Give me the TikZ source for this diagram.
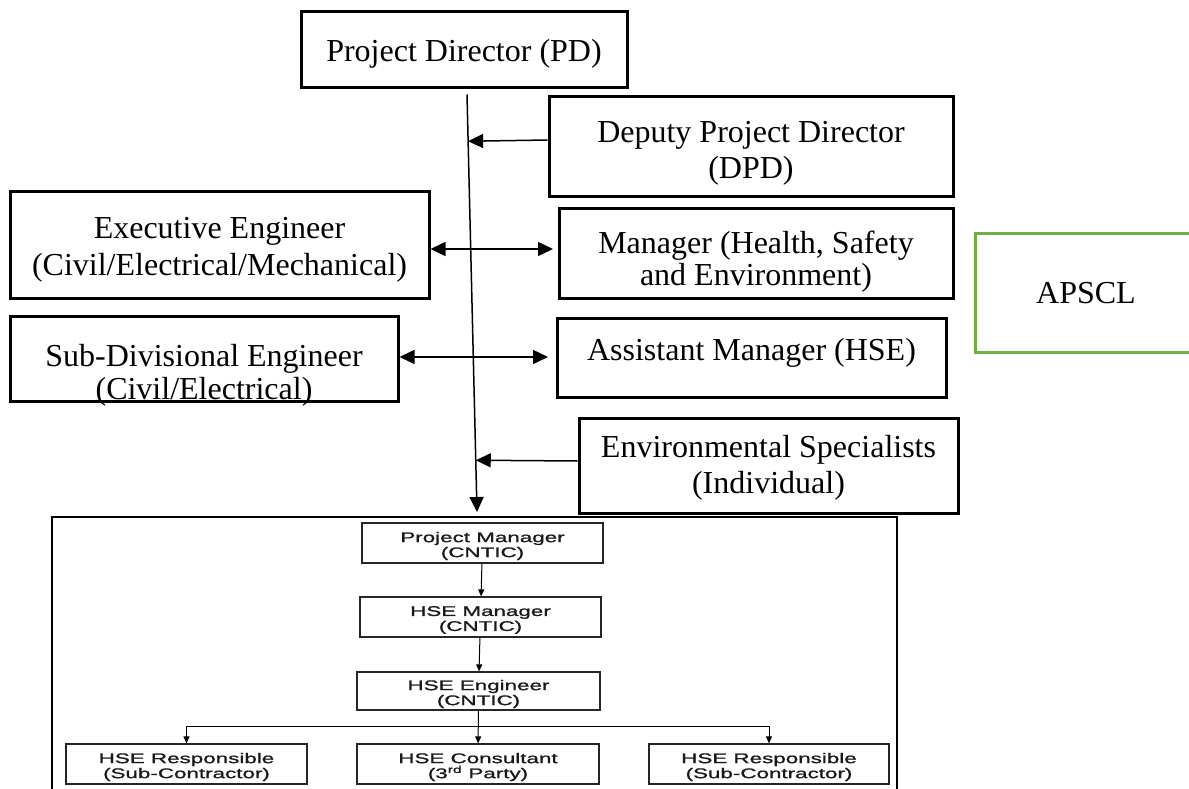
\documentclass[tikz,border=0pt]{standalone}
\usepackage{fontspec}
\setmainfont{Liberation Serif}
\newfontfamily\chartsans[FakeStretch=1.6,FakeBold=1.2]{Liberation Sans}
\usetikzlibrary{arrows.meta,calc}

\begin{document}
\begin{tikzpicture}[x=1pt,y=-1pt,
  box/.style={draw, line width=3pt, inner sep=0pt},
  greenbox/.style={box, draw={rgb,255:red,112;green,173;blue,71}},
  words/.style={inner sep=0pt, align=center, font=\fontsize{32}{36}\selectfont},
  frame/.style={draw, line width=2pt, inner sep=0pt},
  cbox/.style={draw=black!85, line width=1.2pt, inner sep=0pt,
    minimum width=241pt, minimum height=40pt},
  ctext/.style={inner sep=0pt, align=center, text=black!90,
    font=\chartsans\fontsize{14}{15}\selectfont},
  link/.style={line width=1.5pt, -{Triangle[length=15pt,width=14pt]}},
  both/.style={line width=1.5pt, {Triangle[length=15pt,width=14pt]}-{Triangle[length=15pt,width=14pt]}},
  clink/.style={line width=1pt, -{Triangle[length=7pt,width=6pt]}}]

\useasboundingbox (0,0) rectangle (1189,789);
\clip (0,0) rectangle (1189,789);

% upper organisation boxes
\node[box, minimum width=326pt, minimum height=76pt] (pd) at (464,50) {};
\node[words] (pdtxt) at (464,54) {Project Director (PD)};
\node[box, minimum width=404pt, minimum height=99pt] (dpd) at (751,146.5) {};
\node[words] (dpdtxt) at (751,153) {Deputy Project Director\\(DPD)};
\node[box, minimum width=419pt, minimum height=107pt] (exec) at (219.5,244.5) {};
\node[words, font=\fontsize{32}{37}\selectfont] (exectxt) at (219.5,250) {Executive Engineer\\(Civil/Electrical/Mechanical)};
\node[box, minimum width=394pt, minimum height=90pt] (mgr) at (756,253) {};
\node[words, font=\fontsize{32}{32}\selectfont] (mgrtxt) at (756,262) {Manager (Health, Safety\\and Environment)};
\node[greenbox, minimum width=220pt, minimum height=119pt] (apscl) at (1085,292.5) {};
\node[words] (apscltxt) at (1086,293) {APSCL};
\node[box, minimum width=388pt, minimum height=85pt] (sub) at (204,358.5) {};
\node[words, font=\fontsize{32}{33}\selectfont] (subtxt) at (204,375) {Sub-Divisional Engineer\\(Civil/Electrical)};
\node[box, minimum width=389pt, minimum height=79pt] (asst) at (751.5,357.5) {};
\node[words] (assttxt) at (751.5,353) {Assistant Manager (HSE)};
\node[box, minimum width=379pt, minimum height=95pt] (env) at (768.5,465.5) {};
\node[words] (envtxt) at (768.5,468) {Environmental Specialists\\(Individual)};

% contractor organisation frame
\node[frame, minimum width=845pt, minimum height=300pt] (cntic) at (474.5,667) {};
\node[cbox] (pm) at (482.5,543) {};
\node[ctext] (pmtxt) at ($(pm)+(0,3)$) {Project Manager\\(CNTIC)};
\node[cbox] (hsem) at (480.5,617) {};
\node[ctext] (hsemtxt) at ($(hsem)+(0,3)$) {HSE Manager\\(CNTIC)};
\node[cbox, minimum width=243pt, minimum height=38pt] (hsee) at (478.5,691) {};
\node[ctext] (hseetxt) at ($(hsee)+(0,3)$) {HSE Engineer\\(CNTIC)};
\node[cbox] (rl) at (186.5,764) {};
\node[ctext] (rltxt) at ($(rl)+(0,3)$) {HSE Responsible\\(Sub-Contractor)};
\node[cbox, minimum width=242pt] (con) at (478,764) {};
\node[ctext] (contxt) at ($(con)+(0,3)$) {HSE Consultant\\(3\textsuperscript{rd} Party)};
\node[cbox, minimum width=240pt] (rr) at (769,764) {};
\node[ctext] (rrtxt) at ($(rr)+(0,3)$) {HSE Responsible\\(Sub-Contractor)};

% main reporting line
\coordinate (top) at ($(pd.south)+(3,5)$);
\coordinate (bot) at ($(cntic.north)+(2.5,-4)$);
\draw[link] (top) -- (bot);
\draw[link] (dpd.west |- 0,140) -- ($(top)!0.112!(bot)$);
\draw[link] (env.west |- 0,461) -- ($(top)!0.876!(bot)$);
\draw[both] (exec.east |- 0,249) -- (553,249);
\draw[both] (sub.east |- 0,357) -- (548,357);

% contractor chain
\draw[clink] (pm) -- (hsem);
\draw[clink] (hsem) -- (hsee);
\draw[clink] (hsee) -- (con);
\coordinate (split) at (hsee.south |- 0,726);
\draw[clink] (split) -| (rl.north);
\draw[clink] (split) -| (rr.north);
\end{tikzpicture}
\end{document}
